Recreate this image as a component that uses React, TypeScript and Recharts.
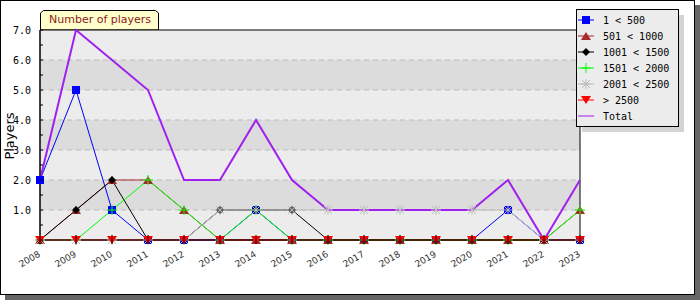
import React from 'react';
import { LineChart, Line, XAxis, YAxis, ReferenceArea, ReferenceLine, Legend } from 'recharts';

const years = [2008, 2009, 2010, 2011, 2012, 2013, 2014, 2015, 2016, 2017, 2018, 2019, 2020, 2021, 2022, 2023];
const players1to500 = [2, 5, 1, 0, 0, 0, 1, 0, 0, 0, 0, 0, 0, 1, 0, 0];
const players501to1000 = [0, 1, 2, 2, 1, 0, 0, 0, 0, 0, 0, 0, 0, 0, 0, 1];
const players1001to1500 = [0, 1, 2, 0, 0, 1, 1, 1, 0, 0, 0, 0, 0, 0, 0, 0];
const players1501to2000 = [0, 0, 1, 2, 1, 0, 1, 0, 0, 0, 0, 0, 0, 0, 0, 1];
const players2001to2500 = [0, 0, 0, 0, 0, 1, 1, 1, 1, 1, 1, 1, 1, 1, 0, 0];
const playersOver2500 = [0, 0, 0, 0, 0, 0, 0, 0, 0, 0, 0, 0, 0, 0, 0, 0];
const playersTotal = [2, 7, 6, 5, 2, 2, 4, 2, 1, 1, 1, 1, 1, 2, 0, 2];

const seriesLabels = ['1 < 500', '501 < 1000', '1001 < 1500', '1501 < 2000', '2001 < 2500', '> 2500', 'Total'];
const yTicks = [0, 0.5, 1, 1.5, 2, 2.5, 3, 3.5, 4, 4.5, 5, 5.5, 6, 6.5, 7];
const yBands = [0, 1, 2, 3, 4, 5, 6];
const yGrid = [1, 2, 3, 4, 5, 6];
const chartTitle = 'Number of players';
const yTitle = 'Players';

const data = years.map((year, i) => ({
  year,
  a: players1to500[i],
  b: players501to1000[i],
  c: players1001to1500[i],
  d: players1501to2000[i],
  e: players2001to2500[i],
  f: playersOver2500[i],
  t: playersTotal[i],
}));

type Kind = 'square' | 'tri' | 'diamond' | 'plus' | 'star' | 'down' | 'none';

const series: { key: string; label: string; color: string; kind: Kind; width: number }[] = [
  { key: 'a', label: seriesLabels[0], color: '#0000ff', kind: 'square', width: 1 },
  { key: 'b', label: seriesLabels[1], color: '#a52a2a', kind: 'tri', width: 1 },
  { key: 'c', label: seriesLabels[2], color: '#000000', kind: 'diamond', width: 1 },
  { key: 'd', label: seriesLabels[3], color: '#00ff00', kind: 'plus', width: 1 },
  { key: 'e', label: seriesLabels[4], color: '#bbbbbb', kind: 'star', width: 1 },
  { key: 'f', label: seriesLabels[5], color: '#ff0000', kind: 'down', width: 1 },
  { key: 't', label: seriesLabels[6], color: '#a020f0', kind: 'none', width: 2 },
];

const Marker = ({ kind, cx, cy, color }: { kind: Kind; cx: number; cy: number; color: string }) => {
  if (cx == null || cy == null) return <g />;
  switch (kind) {
    case 'square':
      return <rect x={cx - 4} y={cy - 4} width={8} height={8} fill={color} />;
    case 'tri':
      return <polygon points={`${cx - 5},${cy + 4} ${cx + 5},${cy + 4} ${cx},${cy - 4}`} fill={color} />;
    case 'diamond':
      return <polygon points={`${cx - 4},${cy} ${cx},${cy - 4} ${cx + 4},${cy} ${cx},${cy + 4}`} fill={color} />;
    case 'plus':
      return (
        <g stroke={color} strokeWidth={1}>
          <line x1={cx - 5} x2={cx + 5} y1={cy} y2={cy} />
          <line x1={cx} x2={cx} y1={cy - 5} y2={cy + 5} />
        </g>
      );
    case 'star':
      return (
        <g stroke={color} strokeWidth={1}>
          <line x1={cx - 5} x2={cx + 5} y1={cy} y2={cy} />
          <line x1={cx} x2={cx} y1={cy - 5} y2={cy + 5} />
          <line x1={cx - 4} x2={cx + 4} y1={cy - 4} y2={cy + 4} />
          <line x1={cx - 4} x2={cx + 4} y1={cy + 4} y2={cy - 4} />
        </g>
      );
    case 'down':
      return <polygon points={`${cx - 5},${cy - 4} ${cx + 5},${cy - 4} ${cx},${cy + 4}`} fill={color} />;
    default:
      return <g />;
  }
};

const XTick = (props: any) => {
  const { x, y, payload } = props;
  const ax = x;
  const ay = y;
  return (
    <g>
      <line x1={ax} x2={ax} y1={ay - 5} y2={ay + 4} stroke="#000" />
      <text
        x={ax + 1}
        y={ay + 16}
        transform={`rotate(-30 ${ax + 1} ${ay + 16})`}
        textAnchor="end"
        fontSize={9}
        fontFamily="DejaVu Sans"
        fill="#333"
      >
        {payload.value}
      </text>
    </g>
  );
};

const YTick = (props: any) => {
  const { x, y, payload } = props;
  const v = payload.value as number;
  const axisX = x + 9;
  const isInt = Number.isInteger(v);
  return (
    <g>
      <line x1={axisX} x2={axisX + 3} y1={y} y2={y} stroke="#000" />
      {isInt && v > 0 ? (
        <text x={x} y={y} dy="0.36em" textAnchor="end" fontSize={10} fontFamily="DejaVu Sans Mono" fill="#000">
          {v.toFixed(1)}
        </text>
      ) : null}
    </g>
  );
};

const LegendBox = () => (
  <svg width={112} height={126} style={{ display: 'block' }}>
    <rect x={6} y={6} width={102} height={117} fill="#d4d4d4" />
    <rect x={0.5} y={0.5} width={102} height={117} fill="#ececec" stroke="#000" />
    {series.map((s, i) => {
      const cy = 11 + i * 16;
      return (
        <g key={s.key}>
          <line x1={2} x2={18} y1={cy} y2={cy} stroke={s.color} strokeWidth={1} />
          <Marker kind={s.kind} cx={10} cy={cy} color={s.color} />
          <text x={27} y={cy} dy="0.36em" fontSize={10} fontFamily="DejaVu Sans Mono" fill="#000">
            {s.label}
          </text>
        </g>
      );
    })}
  </svg>
);

export default function App() {
  return (
    <div style={{ position: 'absolute', left: 0, top: 0, width: 700, height: 300 }}>
      <svg width={700} height={300} style={{ position: 'absolute', left: 0, top: 0 }}>
        <rect x={5} y={5} width={695} height={295} fill="#666666" />
        <rect x={0.5} y={0.5} width={694} height={294} fill="#ffffff" stroke="#000" />
        <path d="M40.5,30 L40.5,13 L43.5,10.5 L155.5,10.5 L158.5,13 L158.5,30 Z" fill="#ffffcc" stroke="#000" />
        <text x={49} y={23} fontSize={11} fontFamily="DejaVu Sans" fill="#8b1a1a">
          {chartTitle}
        </text>
        <text x={14} y={136} transform="rotate(-90 14 136)" textAnchor="middle" fontSize={13} fontFamily="DejaVu Sans" fill="#000">
          {yTitle}
        </text>
      </svg>
      <div style={{ position: 'absolute', left: 0, top: 0 }}>
        <LineChart width={700} height={300} data={data} margin={{ top: 30, right: 120, bottom: 0, left: 0 }}>
          {yBands.map((b) => (
            <ReferenceArea
              key={`band${b}`}
              x1={years[0]}
              x2={years[years.length - 1]}
              y1={b}
              y2={b + 1}
              fill={b % 2 === 0 ? '#ececec' : '#dcdcdc'}
              fillOpacity={1}
              stroke="none"
              isFront={false}
            />
          ))}
          {yGrid.map((g) => (
            <ReferenceLine key={`grid${g}`} y={g} stroke="#bbbbbb" strokeDasharray="5 4" />
          ))}
          {series.map((s) => (
            <Line
              key={s.key}
              type="linear"
              dataKey={s.key}
              name={s.label}
              stroke={s.color}
              strokeWidth={s.width}
              isAnimationActive={false}
              dot={(p: any) => <Marker key={`${s.key}-${p.index}`} kind={s.kind} cx={p.cx} cy={p.cy} color={s.color} />}
              activeDot={false}
            />
          ))}
          <ReferenceArea
            x1={years[0]}
            x2={years[years.length - 1]}
            y1={0}
            y2={7}
            fill="none"
            stroke="#000"
            isFront={true}
          />
          <XAxis
            dataKey="year"
            type="number"
            domain={[years[0], years[years.length - 1]]}
            ticks={years}
            interval={0}
            height={60}
            tickSize={0}
            tickMargin={0}
            tickLine={false}
            axisLine={{ stroke: '#000' }}
            tick={(p: any) => <XTick {...p} />}
          />
          <YAxis
            type="number"
            domain={[0, 7]}
            ticks={yTicks}
            interval={0}
            width={40}
            tickSize={0}
            tickMargin={9}
            tickLine={false}
            axisLine={{ stroke: '#000' }}
            tick={(p: any) => <YTick {...p} />}
          />
          <Legend
            layout="vertical"
            align="center"
            verticalAlign="middle"
            content={() => <LegendBox />}
            wrapperStyle={{ left: 576, top: 9, width: 112, height: 126, right: 'auto', bottom: 'auto' }}
          />
        </LineChart>
      </div>
    </div>
  );
}
